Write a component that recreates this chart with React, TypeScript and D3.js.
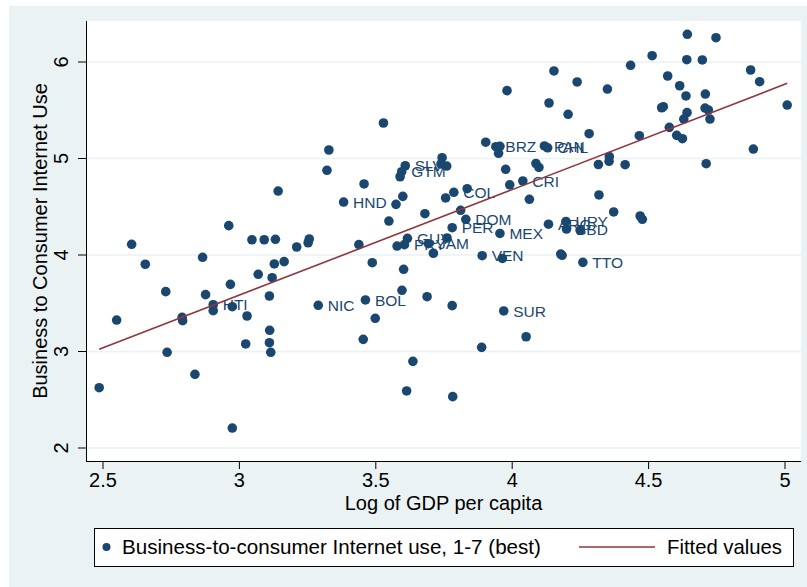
import React from "react";
import * as d3 from "d3";

// Log of GDP per capita / Business-to-consumer Internet use (unlabelled observations)
const gdpLog: number[] = [
  2.486, 2.550, 2.605, 2.655, 2.730, 2.735, 2.790, 2.792, 2.837, 2.865,
  2.876, 2.904, 2.961, 2.967, 2.974, 2.974, 3.023, 3.028, 3.046, 3.069,
  3.091, 3.110, 3.111, 3.110, 3.115, 3.120, 3.128, 3.132, 3.164, 3.210,
  3.252, 3.256, 3.142, 3.328, 3.321, 3.528, 3.457, 3.599, 3.574, 3.589,
  3.743, 3.760, 3.739, 3.756, 3.835, 3.680, 3.548, 3.811, 3.903, 3.955,
  3.950, 3.976, 3.981, 3.991, 4.063, 4.087, 4.098, 4.135, 4.153, 3.438,
  3.578, 3.711, 3.761, 3.487, 3.602, 3.964, 3.596, 3.688, 3.780, 3.498,
  4.051, 3.454, 3.888, 3.636, 3.613, 3.782, 4.642, 4.747, 4.513, 4.640,
  4.697, 4.434, 4.874, 4.570, 4.238, 4.907, 4.614, 4.349, 4.637, 4.708,
  4.205, 5.008, 4.554, 4.548, 4.707, 4.719, 4.641, 4.629, 4.725, 4.576,
  4.282, 4.466, 4.603, 4.624, 4.884, 4.356, 4.355, 4.316, 4.414, 4.711,
  4.318, 4.372, 4.469, 4.477, 4.249, 4.178, 4.183,
];
const b2cUse: number[] = [
  2.625, 3.326, 4.111, 3.904, 3.620, 2.992, 3.354, 3.319, 2.764, 3.976,
  3.589, 3.423, 4.304, 3.696, 3.464, 2.207, 3.078, 3.368, 4.158, 3.800,
  4.158, 3.575, 3.220, 3.091, 2.992, 3.765, 3.907, 4.163, 3.931, 4.083,
  4.127, 4.166, 4.663, 5.088, 4.878, 5.368, 4.736, 4.608, 4.525, 4.811,
  5.008, 4.922, 4.943, 4.591, 4.687, 4.428, 4.352, 4.463, 5.169, 5.126,
  5.054, 4.888, 5.703, 4.727, 4.577, 4.948, 4.907, 5.575, 5.907, 4.107,
  4.093, 4.018, 4.176, 3.920, 3.852, 3.964, 3.634, 3.568, 3.475, 3.344,
  3.153, 3.126, 3.043, 2.898, 2.591, 2.532, 6.287, 6.252, 6.065, 6.024,
  6.021, 5.966, 5.917, 5.855, 5.793, 5.796, 5.754, 5.720, 5.648, 5.668,
  5.458, 5.554, 5.537, 5.526, 5.523, 5.503, 5.475, 5.409, 5.409, 5.323,
  5.257, 5.236, 5.240, 5.205, 5.098, 5.019, 4.971, 4.938, 4.936, 4.946,
  4.622, 4.446, 4.404, 4.370, 4.256, 4.010, 3.997,
];

// Labelled observations
const countryCodes: string[] = [
  "HTI", "NIC", "HND", "SLV", "GTM", "COL", "DOM", "PER", "MEX", "BRZ", "CRI", "PAN",
  "CHL", "ARG", "PRY", "GUY", "JAM", "VEN", "BOL", "SUR", "URY", "BBD", "TTO",
];
const countryGdpLog: number[] = [
  2.904, 3.289, 3.382, 3.608, 3.595, 3.786, 3.830, 3.780, 3.955, 3.940, 4.039, 4.118,
  4.130, 4.133, 3.605, 3.616, 3.693, 3.890, 3.462, 3.969, 4.197, 4.199, 4.259,
];
const countryB2cUse: number[] = [
  3.485, 3.479, 4.549, 4.925, 4.863, 4.650, 4.370, 4.283, 4.223, 5.122, 4.767, 5.130,
  5.111, 4.319, 4.107, 4.173, 4.117, 3.993, 3.534, 3.420, 4.347, 4.269, 3.924,
];

// Fitted values (end points of the regression line)
const fitX: number[] = [2.486, 5.008];
const fitY: number[] = [3.023, 5.779];

const xTicks: number[] = [2.5, 3, 3.5, 4, 4.5, 5];
const yTicks: number[] = [2, 3, 4, 5, 6];

const xTitle = "Log of GDP per capita";
const yTitle = "Business to Consumer Internet Use";
const legendScatter = "Business-to-consumer Internet use, 1-7 (best)";
const legendLine = "Fitted values";

const NAVY = "#1a476f";
const MAROON = "#90353b";
const BG = "#eaf2f3";
const FONT = "'Liberation Sans', Arial, Helvetica, sans-serif";

export default function App() {
  const W = 807;
  const H = 587;
  const plot = { left: 86, right: 801, top: 21, bottom: 461 };

  const x = d3.scaleLinear().domain([2.5, 5]).range([103, 785]);
  const y = d3.scaleLinear().domain([2, 6]).range([448, 62]);

  const line = d3
    .line<number>()
    .x((d) => x(d))
    .y((_, i) => y(fitY[i]));

  const allX = gdpLog.concat(countryGdpLog);
  const allY = b2cUse.concat(countryB2cUse);

  const legend = { left: 94, right: 793, top: 528, bottom: 566 };
  const legMid = (legend.top + legend.bottom) / 2;

  return (
    <svg
      width={W}
      height={H}
      style={{ position: "absolute", left: 0, top: 0, display: "block" }}
      fontFamily={FONT}
    >
      <rect x={0} y={0} width={W} height={H} fill="#ffffff" />
      <rect x={9} y={6} width={W - 9} height={H - 6} fill={BG} />
      <rect
        x={plot.left}
        y={plot.top}
        width={plot.right - plot.left}
        height={plot.bottom - plot.top}
        fill="#ffffff"
      />
      {/* grid */}
      {yTicks.map((t) => (
        <line
          key={"g" + t}
          x1={plot.left}
          x2={plot.right}
          y1={y(t)}
          y2={y(t)}
          stroke={BG}
          strokeWidth={1.6}
        />
      ))}

      {/* country labels */}
      {countryCodes.map((c, i) => (
        <text
          key={"l" + c}
          x={x(countryGdpLog[i]) + 9.5}
          y={y(countryB2cUse[i])}
          dy="0.36em"
          fontSize={15.5}
          fill={NAVY}
        >
          {c}
        </text>
      ))}

      {/* points */}
      {allX.map((v, i) => (
        <circle key={"p" + i} cx={x(v)} cy={y(allY[i])} r={4.8} fill={NAVY} />
      ))}

      {/* fitted line */}
      <path d={line(fitX) || ""} fill="none" stroke={MAROON} strokeWidth={1.6} />

      {/* axes */}
      <line x1={plot.left + 0.5} x2={plot.left + 0.5} y1={plot.top} y2={plot.bottom} stroke="#000" strokeWidth={1} />
      <line x1={plot.left} x2={plot.right} y1={plot.bottom + 0.5} y2={plot.bottom + 0.5} stroke="#000" strokeWidth={1} />
      {yTicks.map((t) => (
        <g key={"yt" + t}>
          <line x1={78} x2={plot.left} y1={y(t)} y2={y(t)} stroke="#000" strokeWidth={1} />
          <text
            transform={`translate(68,${y(t)}) rotate(-90)`}
            textAnchor="middle"
            fontSize={20}
            fill="#000"
          >
            {t}
          </text>
        </g>
      ))}
      {xTicks.map((t) => (
        <g key={"xt" + t}>
          <line x1={x(t)} x2={x(t)} y1={plot.bottom} y2={469} stroke="#000" strokeWidth={1} />
          <text x={x(t)} y={487} textAnchor="middle" fontSize={20} fill="#000">
            {t}
          </text>
        </g>
      ))}
      <text x={(plot.left + plot.right) / 2} y={510} textAnchor="middle" fontSize={20} fill="#000">
        {xTitle}
      </text>
      <text
        transform={`translate(46.5,${(plot.top + plot.bottom) / 2}) rotate(-90)`}
        textAnchor="middle"
        fontSize={20}
        fill="#000"
      >
        {yTitle}
      </text>

      {/* legend */}
      <rect
        x={legend.left + 0.5}
        y={legend.top + 0.5}
        width={legend.right - legend.left}
        height={legend.bottom - legend.top}
        fill="#ffffff"
        stroke="#000"
        strokeWidth={1}
      />
      <circle cx={106.5} cy={legMid} r={4} fill={NAVY} />
      <text x={122} y={legMid} dy="0.36em" fontSize={20.6} fill="#000">
        {legendScatter}
      </text>
      <line x1={579} x2={655} y1={legMid} y2={legMid} stroke={MAROON} strokeWidth={1.6} />
      <text x={667} y={legMid} dy="0.36em" fontSize={20.3} fill="#000">
        {legendLine}
      </text>
    </svg>
  );
}
